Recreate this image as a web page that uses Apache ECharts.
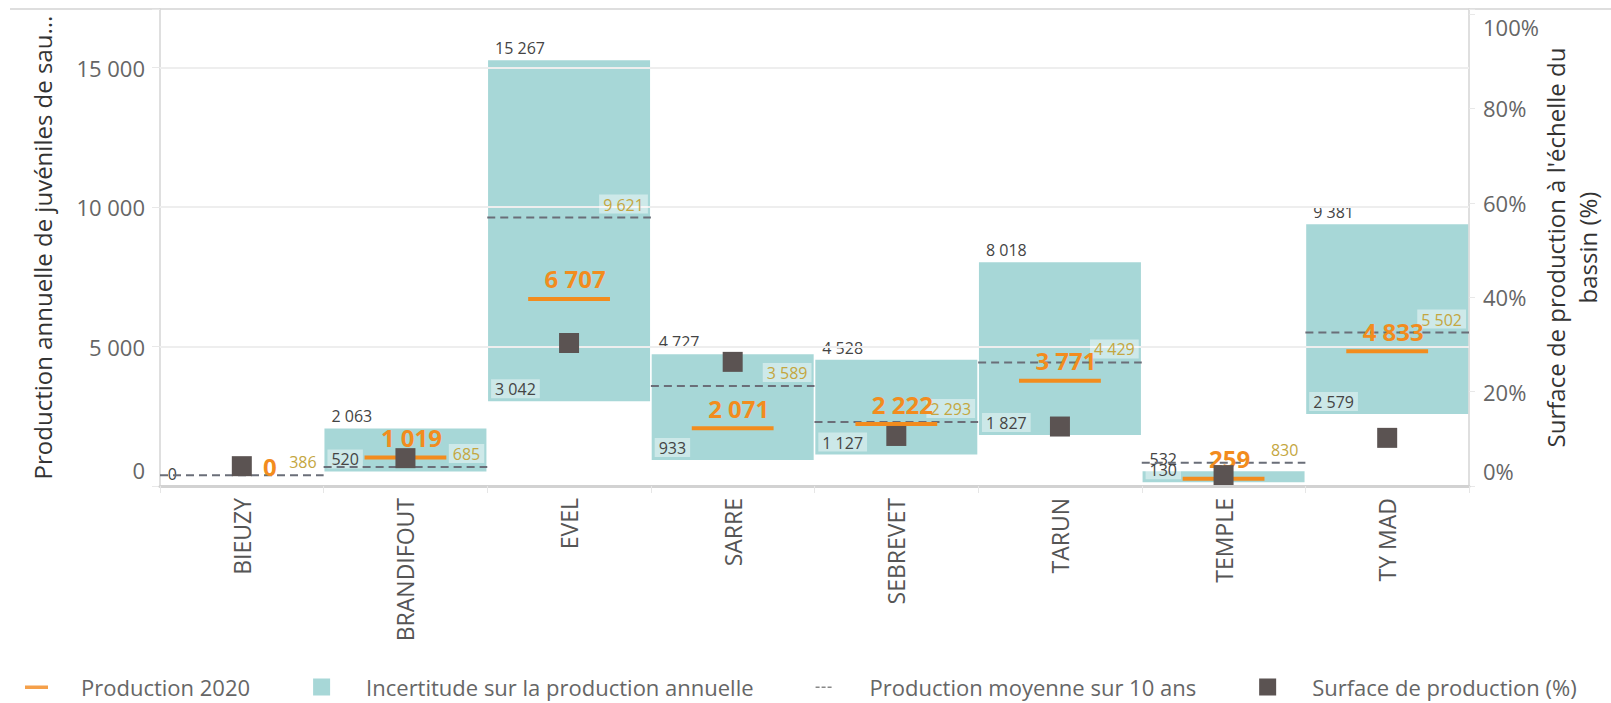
<!DOCTYPE html>
<html>
<head>
<meta charset="utf-8">
<script src="https://cdn.jsdelivr.net/npm/echarts@6/dist/echarts.min.js"></script>
<style>
html,body{margin:0;padding:0;background:#fff;}
#chart{width:1611px;height:703px;}
</style>
</head>
<body>
<div id="chart"></div>
<script>
const categories = ['BIEUZY','BRANDIFOUT','EVEL','SARRE','SEBREVET','TARUN','TEMPLE','TY MAD'];
const upper = [0, 2063, 15267, 4727, 4528, 8018, 532, 9381];
const lower = [0, 520, 3042, 933, 1127, 1827, 130, 2579];
const prod2020 = [0, 1019, 6707, 2071, 2222, 3771, 259, 4833];
const mean10 = [386, 685, 9621, 3589, 2293, 4429, 830, 5502];
const surfacePct = [4.2, 5.9, 30.3, 26.3, 10.6, 12.6, 2.3, 10.2];
const leftTicks = [5000, 10000, 15000];

const LEFT_MAX = 17100;
const RIGHT_MAX = 1.0106;
const FONT = 'Open Sans';
const TEAL = '#a7d7d7';
const ORANGE = '#f28c1e';
const GOLD = '#c4a640';
const DASH = '#6a6e78';
const SQUARE = '#5b5352';

const fmt = v => String(Math.round(v)).replace(/\B(?=(\d{3})+(?!\d))/g, ' ');

const chart = echarts.init(document.getElementById('chart'), null, {renderer: 'svg'});

const baseData = lower.map((v, i) => v === upper[i]
  ? {value: v, label: {show: false}}
  : v);
const rangeData = upper.map((v, i) => v - lower[i]);

const option = {
  animation: false,
  textStyle: {fontFamily: FONT},
  grid: {left: 160, right: 142, top: 9, bottom: 217, containLabel: false, outerBoundsMode: 'none'},
  graphic: [
    {type: 'line', shape: {x1: 10, y1: 9, x2: 1611, y2: 9}, style: {stroke: '#dedede', lineWidth: 2}, z: 0}
  ],
  legend: {
    left: 20, top: 669,
    itemWidth: 23, itemHeight: 17, itemGap: 60,
    textStyle: {fontSize: 22, lineHeight: 26, color: '#666', fontFamily: FONT, padding: [0, 0, 0, 28]},
    data: [
      {name: 'Production 2020', icon: 'path://M0,0h0.01v0.01h-0.01z M0,7h23v3.5h-23z M22.99,16.99h0.01v0.01h-0.01z'},
      {name: 'Incertitude sur la production annuelle', icon: 'path://M3,0h17v17h-17z M0,0h0.01v0.01h-0.01z M22.99,16.99h0.01v0.01h-0.01z'},
      {name: 'Production moyenne sur 10 ans', icon: 'path://M0,0h0.01v0.01h-0.01z M2,8h4v1.6h-4z M8,8h4v1.6h-4z M14,8h4v1.6h-4z M22.99,16.99h0.01v0.01h-0.01z'},
      {name: 'Surface de production (%)', icon: 'path://M3,0h17v17h-17z M0,0h0.01v0.01h-0.01z M22.99,16.99h0.01v0.01h-0.01z'}
    ]
  },
  xAxis: {
    type: 'category',
    data: categories,
    z: 10,
    axisLine: {onZero: false, lineStyle: {color: '#d2d2d2', width: 3}},
    axisTick: {show: true, length: 7, lineStyle: {color: '#e6e6e6'}},
    axisLabel: {rotate: 90, margin: 12, fontSize: 23, color: '#555', fontFamily: FONT}
  },
  yAxis: [
    {
      type: 'value', min: 0, max: LEFT_MAX, interval: 5000,
      name: 'Production annuelle de juvéniles de sau...',
      nameLocation: 'middle', nameRotate: 90, nameGap: 106,
      nameTextStyle: {fontSize: 24, color: '#333', fontFamily: FONT},
      axisLine: {show: true, lineStyle: {color: '#d4d4d4', width: 1.5}},
      axisTick: {show: true, length: 8, lineStyle: {color: '#e8e8e8'}},
      splitLine: {show: false},
      axisLabel: {
        margin: 15, fontSize: 22, color: '#666', fontFamily: FONT,
        formatter: v => (v % 5000 !== 0) ? '' : (v === 0 ? '{b|0}' : fmt(v)),
        rich: {b: {padding: [0, 0, 32, 0], fontSize: 22, color: '#666', fontFamily: FONT}}
      }
    },
    {
      type: 'value', min: 0, max: RIGHT_MAX, interval: 0.2, position: 'right',
      name: "Surface de production à l'échelle du\nbassin (%)",
      nameLocation: 'middle', nameRotate: 90, nameGap: 70, nameMoveOverlap: false,
      nameTextStyle: {fontSize: 24, color: '#333', fontFamily: FONT, lineHeight: 32, align: 'center'},
      axisLine: {show: true, lineStyle: {color: '#d4d4d4', width: 1.5}},
      axisTick: {show: true, length: 6, lineStyle: {color: '#e8e8e8'}},
      splitLine: {show: false},
      axisLabel: {
        margin: 14, fontSize: 22, color: '#666', fontFamily: FONT,
        formatter: v => {
          const r = Math.round(v * 5) / 5;
          if (Math.abs(v - r) > 1e-6) return '';
          const p = Math.round(v * 100);
          if (p === 0) return '{b|0%}';
          if (p === 100) return '{t|100%}';
          return p + '%';
        },
        rich: {
          b: {padding: [0, 0, 30, 0], fontSize: 22, color: '#666', fontFamily: FONT},
          t: {padding: [26, 0, 0, 0], fontSize: 22, color: '#666', fontFamily: FONT}
        }
      }
    }
  ],
  series: [
    {
      name: 'base', type: 'bar', stack: 'range', barCategoryGap: '1%',
      itemStyle: {color: 'rgba(0,0,0,0)'}, silent: true, z: 2,
      label: {
        show: true, position: [3, -3], align: 'left', verticalAlign: 'bottom',
        fontSize: 16, color: '#444', fontFamily: FONT,
        backgroundColor: 'rgba(255,255,255,0.42)', padding: [2, 4, 1, 4],
        formatter: p => fmt(lower[p.dataIndex])
      },
      data: baseData
    },
    {
      name: 'Incertitude sur la production annuelle', type: 'bar', stack: 'range', barCategoryGap: '1%',
      itemStyle: {color: TEAL}, z: 2,
      label: {
        show: true, position: [7, -4], align: 'left', verticalAlign: 'bottom',
        fontSize: 16, color: '#444', fontFamily: FONT,
        formatter: p => fmt(upper[p.dataIndex])
      },
      markLine: {
        silent: true, symbol: 'none', z: 5,
        label: {show: false},
        lineStyle: {color: '#eeeeee', width: 2, type: 'solid'},
        data: leftTicks.map(t => ({yAxis: t}))
      },
      data: rangeData
    },
    {
      name: 'Production moyenne sur 10 ans', type: 'custom', z: 6,
      itemStyle: {color: '#888'},
      encode: {x: 0, y: 1},
      renderItem: (params, api) => {
        const c = api.coord([api.value(0), api.value(1)]);
        const bw = api.size([1, 0])[0];
        return {
          type: 'group',
          children: [
            {type: 'line', shape: {x1: c[0] - bw / 2, y1: c[1], x2: c[0] + bw / 2, y2: c[1]},
              style: {stroke: DASH, lineWidth: 2, lineDash: [8, 5]}},
            {type: 'text', x: c[0] + bw / 2 - 3, y: c[1] - 4, z2: 10,
              style: {text: fmt(api.value(1)), align: 'right', verticalAlign: 'bottom',
                fill: GOLD, font: '16px "' + FONT + '"', backgroundColor: 'rgba(255,255,255,0.45)', padding: [2, 4, 1, 4]}}
          ]
        };
      },
      data: mean10.map((v, i) => [i, v])
    },
    {
      name: 'Production 2020', type: 'custom', z: 7, clip: true,
      itemStyle: {color: '#f5a04a'},
      encode: {x: 0, y: 1},
      renderItem: (params, api) => {
        const i = api.value(0);
        const c = api.coord([i, api.value(1)]);
        const bw = api.size([1, 0])[0];
        const cs = params.coordSys;
        const axisY = cs.y + cs.height;
        // pixel row of the surface square (right axis) for overlap avoidance
        const sq = api.coord([i, surfacePct[i] / 100 / RIGHT_MAX * LEFT_MAX])[1];
        const ly = c[1] - 20;
        const dx = Math.abs(ly - sq) < 15 ? 28 : 6;
        const children = [];
        // a line lying on the baseline is hidden behind the axis line
        if (axisY - c[1] > 2) {
          children.push({type: 'rect', shape: {x: c[0] - bw * 0.25, y: c[1] - 2, width: bw * 0.5, height: 4},
            style: {fill: ORANGE}});
        }
        children.push({type: 'text', x: c[0] + dx, y: ly, z2: 10,
          style: {text: fmt(api.value(1)), align: 'center', verticalAlign: 'middle',
            fill: ORANGE, font: 'bold 24px "' + FONT + '"'}});
        return {type: 'group', children};
      },
      data: prod2020.map((v, i) => [i, v])
    },
    {
      name: 'Surface de production (%)', type: 'scatter', yAxisIndex: 1, z: 8,
      symbol: 'rect', symbolSize: 20,
      itemStyle: {color: SQUARE, opacity: 1},
      data: surfacePct.map(v => v / 100)
    }
  ]
};
chart.setOption(option);
</script>
</body>
</html>
